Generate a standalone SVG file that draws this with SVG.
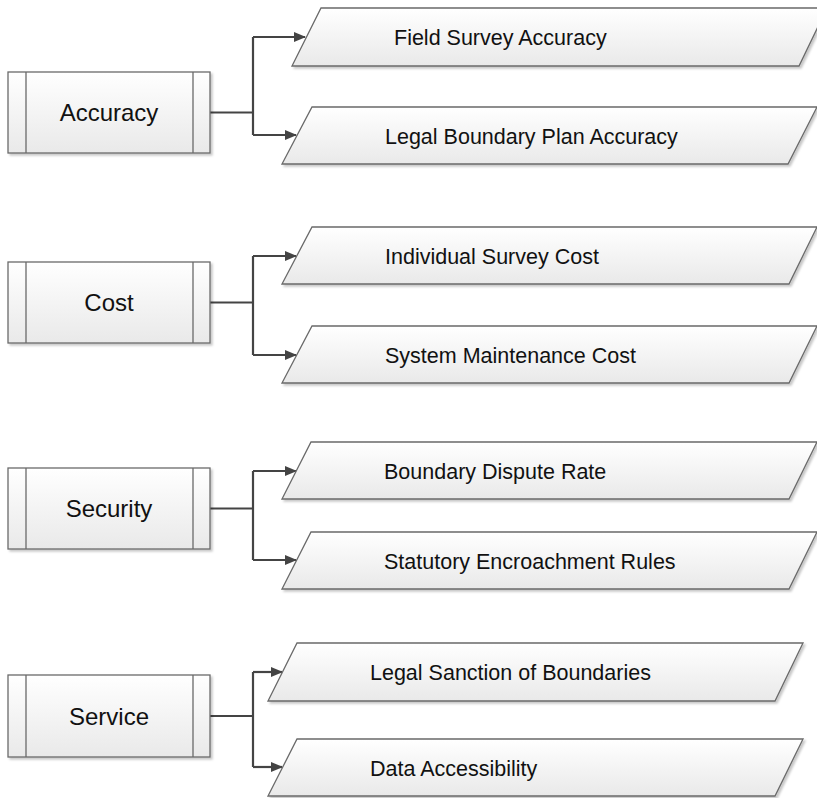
<svg xmlns="http://www.w3.org/2000/svg" width="817" height="798" viewBox="0 0 817 798">
<style>
.box{fill:url(#g);stroke:#6a6a6a;stroke-width:1.3;filter:url(#sh)}
.bar{stroke:#6a6a6a;stroke-width:1.3;fill:none}
.para{fill:url(#g);stroke:#6a6a6a;stroke-width:1.3;filter:url(#sh)}
.lbl{font-family:"Liberation Sans",Arial,sans-serif;font-size:24px;fill:#111;text-anchor:middle}
.t{font-family:"Liberation Sans",Arial,sans-serif;font-size:21.5px;fill:#111}
.c{stroke:#444;stroke-width:2.2;fill:none}
</style>
<defs>
<linearGradient id="g" x1="0" y1="0" x2="0" y2="1">
<stop offset="0" stop-color="#ffffff"/>
<stop offset="1" stop-color="#e9e9e9"/>
</linearGradient>
<filter id="sh" x="-5%" y="-10%" width="110%" height="130%">
<feDropShadow dx="2" dy="2" stdDeviation="1.2" flood-color="#000" flood-opacity="0.22"/>
</filter>
<marker id="ar" markerWidth="12" markerHeight="10" refX="11" refY="5" orient="auto" markerUnits="userSpaceOnUse">
<path d="M0,0 L12,5 L0,10 Z" fill="#444"/>
</marker>
</defs>

<g id="connectors">
<path class="c" d="M210,112.5 H253"/>
<path class="c" d="M253,37 V135"/>
<path class="c" d="M253,37 H305" marker-end="url(#ar)"/>
<path class="c" d="M253,135 H296" marker-end="url(#ar)"/>

<path class="c" d="M210,302.5 H253"/>
<path class="c" d="M253,256 V355"/>
<path class="c" d="M253,256 H296" marker-end="url(#ar)"/>
<path class="c" d="M253,355 H296" marker-end="url(#ar)"/>

<path class="c" d="M210,508.5 H253"/>
<path class="c" d="M253,471 V560"/>
<path class="c" d="M253,471 H296" marker-end="url(#ar)"/>
<path class="c" d="M253,560 H296" marker-end="url(#ar)"/>

<path class="c" d="M210,716 H253"/>
<path class="c" d="M253,672 V767"/>
<path class="c" d="M253,672 H282" marker-end="url(#ar)"/>
<path class="c" d="M253,767 H282" marker-end="url(#ar)"/>
</g>

<g id="accuracy">
<rect class="box" x="8" y="72" width="202" height="81"/>
<path class="bar" d="M26,72 V153 M193,72 V153"/>
<text class="lbl" x="109" y="121">Accuracy</text>
</g>
<g id="cost">
<rect class="box" x="8" y="262" width="202" height="81"/>
<path class="bar" d="M26,262 V343 M193,262 V343"/>
<text class="lbl" x="109" y="311">Cost</text>
</g>
<g id="security">
<rect class="box" x="8" y="468" width="202" height="81"/>
<path class="bar" d="M26,468 V549 M193,468 V549"/>
<text class="lbl" x="109" y="517">Security</text>
</g>
<g id="service">
<rect class="box" x="8" y="675" width="202" height="82"/>
<path class="bar" d="M26,675 V757 M193,675 V757"/>
<text class="lbl" x="109" y="725">Service</text>
</g>

<g id="field-survey-accuracy">
<polygon class="para" points="321,8 827,8 799,66 292,66"/>
<text class="t" x="394" y="44.5">Field Survey Accuracy</text>
</g>
<g id="legal-boundary-plan-accuracy">
<polygon class="para" points="312,107 817,107 788,164 282,164"/>
<text class="t" x="385" y="143.5">Legal Boundary Plan Accuracy</text>
</g>
<g id="individual-survey-cost">
<polygon class="para" points="312,227 817,227 789,284 282,284"/>
<text class="t" x="385" y="263.5">Individual Survey Cost</text>
</g>
<g id="system-maintenance-cost">
<polygon class="para" points="312,326 817,326 789,383 282,383"/>
<text class="t" x="385" y="362.5">System Maintenance Cost</text>
</g>
<g id="boundary-dispute-rate">
<polygon class="para" points="311,442 817,442 789,499 282,499"/>
<text class="t" x="384" y="478.5">Boundary Dispute Rate</text>
</g>
<g id="statutory-encroachment-rules">
<polygon class="para" points="311,532 817,532 789,589 282,589"/>
<text class="t" x="384" y="568.5">Statutory Encroachment Rules</text>
</g>
<g id="legal-sanction-of-boundaries">
<polygon class="para" points="297,643 803,643 775,701 268,701"/>
<text class="t" x="370" y="679.5">Legal Sanction of Boundaries</text>
</g>
<g id="data-accessibility">
<polygon class="para" points="297,739 803,739 775,796 268,796"/>
<text class="t" x="370" y="775.5">Data Accessibility</text>
</g>
</svg>
